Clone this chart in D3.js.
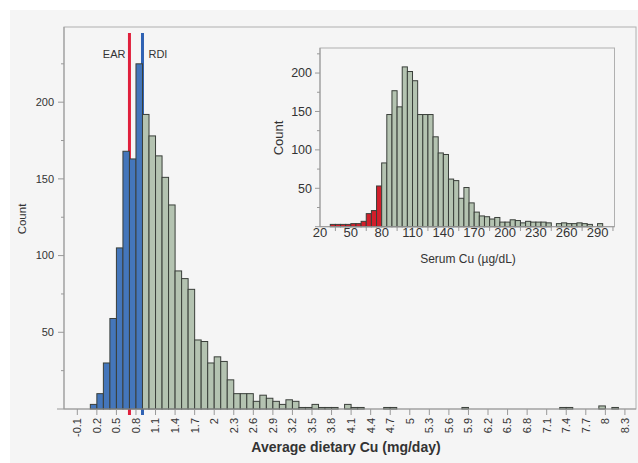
<!DOCTYPE html>
<html>
<head>
<meta charset="utf-8">
<script src="https://cdn.jsdelivr.net/npm/d3@7"></script>
<style>
  body { margin: 0; background: #fff; }
  text { font-family: "Liberation Sans", Arial, sans-serif; fill: #333; }
</style>
</head>
<body>
<svg></svg>
<script>
// main histogram: average dietary Cu, bins of 0.1 mg/day (lower edge)
const dietBins = [0.1, 0.2, 0.3, 0.4, 0.5, 0.6, 0.7, 0.8, 0.9, 1.0, 1.1, 1.2, 1.3, 1.4, 1.5, 1.6, 1.7, 1.8, 1.9, 2.0,
  2.1, 2.2, 2.3, 2.4, 2.5, 2.6, 2.7, 2.8, 2.9, 3.0, 3.1, 3.2, 3.3, 3.4, 3.5, 3.6, 3.7, 3.8, 4.0, 4.1, 4.2,
  4.6, 4.7, 5.8, 7.3, 7.4, 7.9, 8.1];
const dietCounts = [3, 10, 30, 59, 105, 168, 163, 225, 192, 178, 165, 151, 133, 90, 85, 78, 45, 44, 30, 34,
  31, 19, 10, 10, 10, 5, 9, 7, 5, 3, 6, 5, 1, 1, 3, 1, 1, 1, 3, 1, 1,
  1, 1, 1, 1, 1, 2, 1];
const dietTicks = [-0.1, 0.2, 0.5, 0.8, 1.1, 1.4, 1.7, 2, 2.3, 2.6, 2.9, 3.2, 3.5, 3.8, 4.1, 4.4, 4.7, 5,
  5.3, 5.6, 5.9, 6.2, 6.5, 6.8, 7.1, 7.4, 7.7, 8, 8.3];
const countTicks = [50, 100, 150, 200];
const countMinor = [25, 75, 125, 175, 225];
const EAR = 0.7, RDI = 0.9;

// inset: serum Cu, bins of 5 ug/dL (lower edge)
const serumBins = [30, 35, 40, 45, 50, 55, 60, 65, 70, 75, 80, 85, 90, 95, 100, 105, 110, 115, 120, 125,
  130, 135, 140, 145, 150, 155, 160, 165, 170, 175, 180, 185, 190, 195, 200, 205, 210, 215, 220, 225,
  230, 235, 240, 250, 255, 260, 265, 270, 275, 280, 290];
const serumCounts = [3, 3, 3, 3, 4, 4, 7, 17, 21, 53, 83, 146, 177, 156, 208, 202, 190, 146, 146, 146,
  117, 96, 94, 62, 60, 37, 51, 31, 19, 14, 13, 10, 12, 6, 6, 9, 8, 5, 7, 6,
  6, 6, 5, 4, 5, 4, 4, 5, 4, 3, 4];
const serumTicks = [20, 50, 80, 110, 140, 170, 200, 230, 260, 290];
const serumMinor = [35, 65, 95, 125, 155, 185, 215, 245, 275, 305];
const serumLow = 80;

const W = 638, H = 463;
const svg = d3.select("svg").attr("width", W).attr("height", H);

svg.append("rect").attr("x", 10).attr("y", 10).attr("width", W - 10).attr("height", H - 10).attr("fill", "#f5f5f5");

// ---------- main chart ----------
const x = d3.scaleLinear().domain([-0.304, 8.47]).range([64, 636]);
const y = d3.scaleLinear().domain([0, 249]).range([409, 27]);

const main = svg.append("g");
main.append("rect").attr("x", 64).attr("y", 27).attr("width", 636 - 64).attr("height", 409 - 27)
  .attr("fill", "none").attr("stroke", "#b0b0b0");

// reference lines drawn behind the bars
main.append("line").attr("x1", x(EAR)).attr("x2", x(EAR)).attr("y1", 33).attr("y2", 415)
  .attr("stroke", "#e0203c").attr("stroke-width", 3);
main.append("line").attr("x1", x(RDI)).attr("x2", x(RDI)).attr("y1", 33).attr("y2", 415)
  .attr("stroke", "#2f62b3").attr("stroke-width", 3);
main.append("text").attr("x", x(EAR) - 4).attr("y", 58).attr("text-anchor", "end").attr("font-size", 11).text("EAR");
main.append("text").attr("x", x(RDI) + 6).attr("y", 58).attr("font-size", 11).text("RDI");

main.append("g").selectAll("rect")
  .data(dietBins.map((b, i) => ({ b: b, c: dietCounts[i] })))
  .enter().append("rect")
  .attr("x", d => x(d.b))
  .attr("width", d => x(d.b + 0.1) - x(d.b))
  .attr("y", d => y(d.c))
  .attr("height", d => y(0) - y(d.c))
  .attr("fill", d => d.b < RDI - 1e-9 ? "#4476bb" : "#b4c3b1")
  .attr("stroke", "#3a3f3a").attr("stroke-width", 1);

// x axis
main.append("line").attr("x1", 64).attr("x2", 636).attr("y1", 409).attr("y2", 409).attr("stroke", "#999");
const xt = main.append("g").selectAll("g").data(dietTicks).enter().append("g")
  .attr("transform", d => `translate(${x(d)},409)`);
xt.append("line").attr("y2", 6).attr("stroke", "#999");
xt.append("text").attr("transform", "translate(0,9) rotate(-90)")
  .attr("dy", "0.35em").attr("text-anchor", "end").attr("font-size", 11).text(d => d);

// y axis
main.append("line").attr("x1", 64).attr("x2", 64).attr("y1", 27).attr("y2", 409).attr("stroke", "#999");
main.append("line").attr("x1", 57).attr("x2", 64).attr("y1", 409).attr("y2", 409).attr("stroke", "#999");
const yt = main.append("g").selectAll("g").data(countTicks).enter().append("g")
  .attr("transform", d => `translate(64,${y(d)})`);
yt.append("line").attr("x1", -6).attr("stroke", "#999");
yt.append("text").attr("x", -10).attr("dy", "0.35em").attr("text-anchor", "end").attr("font-size", 11).text(d => d);
main.append("g").selectAll("line").data(countMinor).enter().append("line")
  .attr("x1", 61).attr("x2", 64).attr("y1", d => y(d)).attr("y2", d => y(d)).attr("stroke", "#999");

main.append("text").attr("transform", "translate(26,219) rotate(-90)").attr("text-anchor", "middle")
  .attr("font-size", 11.5).text("Count");
main.append("text").attr("x", 346).attr("y", 452).attr("text-anchor", "middle")
  .attr("font-size", 14).attr("font-weight", "bold").attr("fill", "#222").text("Average dietary Cu (mg/day)");

// ---------- inset ----------
const ix = d3.scaleLinear().domain([20, 306.5]).range([320, 614.5]);
const iy = d3.scaleLinear().domain([0, 232.6]).range([226.7, 48]);

const ins = svg.append("g");
ins.append("rect").attr("x", 320).attr("y", 48).attr("width", 614.5 - 320).attr("height", 226.7 - 48)
  .attr("fill", "#f5f5f5").attr("stroke", "#b0b0b0");

ins.append("g").selectAll("rect")
  .data(serumBins.map((b, i) => ({ b: b, c: serumCounts[i] })))
  .enter().append("rect")
  .attr("x", d => ix(d.b))
  .attr("width", d => ix(d.b + 5) - ix(d.b))
  .attr("y", d => iy(d.c))
  .attr("height", d => iy(0) - iy(d.c))
  .attr("fill", d => d.b < serumLow ? "#d21f2b" : "#b4c3b1")
  .attr("stroke", "#3a3f3a").attr("stroke-width", 1);

ins.append("line").attr("x1", 315).attr("x2", 614.5).attr("y1", 226.7).attr("y2", 226.7).attr("stroke", "#999");
ins.append("line").attr("x1", 320).attr("x2", 320).attr("y1", 48).attr("y2", 226.7).attr("stroke", "#999");
ins.append("g").selectAll("line").data(serumMinor).enter().append("line")
  .attr("x1", d => ix(d)).attr("x2", d => ix(d)).attr("y1", 226.7).attr("y2", 231).attr("stroke", "#999");
ins.append("g").selectAll("text").data(serumTicks).enter().append("text")
  .attr("x", d => ix(d)).attr("y", 237).attr("text-anchor", "middle").attr("font-size", 13).text(d => d);

const iyt = ins.append("g").selectAll("g").data(countTicks).enter().append("g")
  .attr("transform", d => `translate(320,${iy(d)})`);
iyt.append("line").attr("x1", -5).attr("stroke", "#999");
iyt.append("text").attr("x", -8).attr("dy", "0.35em").attr("text-anchor", "end").attr("font-size", 12.5).text(d => d);
ins.append("g").selectAll("line").data(countMinor).enter().append("line")
  .attr("x1", 317).attr("x2", 320).attr("y1", d => iy(d)).attr("y2", d => iy(d)).attr("stroke", "#999");

ins.append("text").attr("transform", "translate(283,138) rotate(-90)").attr("text-anchor", "middle")
  .attr("font-size", 13).text("Count");
ins.append("text").attr("x", 468).attr("y", 263).attr("text-anchor", "middle")
  .attr("font-size", 12).text("Serum Cu (µg/dL)");
</script>
</body>
</html>
